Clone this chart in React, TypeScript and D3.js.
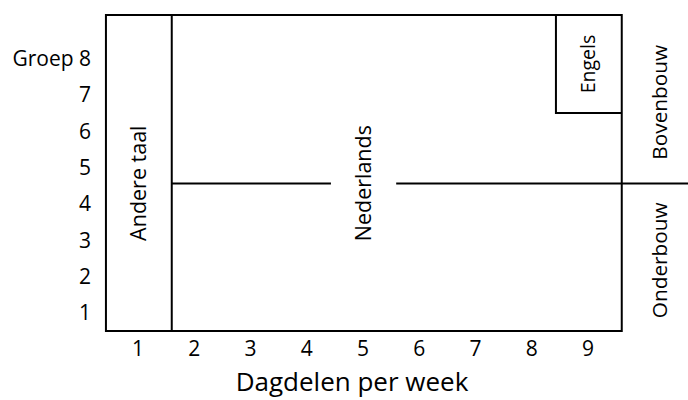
import React from "react";
import * as d3 from "d3";

const xTicks = [1, 2, 3, 4, 5, 6, 7, 8, 9];
const xTickLabels = ["1", "2", "3", "4", "5", "6", "7", "8", "9"];
const yTicks = [1, 2, 3, 4, 5, 6, 7, 8];
const yTickLabels = ["1", "2", "3", "4", "5", "6", "7", "Groep 8"];

// regions in data units [x0, x1, y0, y1]
const frame = { x0: 0.43, x1: 9.6, y0: 0.5, y1: 9.2 };
const andereTaal = { x0: 0.43, x1: 1.6, y0: 0.5, y1: 9.2, label: "Andere taal", lx: 1, ly: 4.57 };
const engels = { x0: 8.43, x1: 9.6, y0: 6.5, y1: 9.2, label: "Engels", lx: 9, ly: 7.85 };
const nederlands = { label: "Nederlands", lx: 5, ly: 4.57 };
const splitY = 4.56;
const splitSegments = [
  [1.6, 4.43],
  [5.59, 11.1],
];
const sideLabels = [
  { label: "Bovenbouw", y0: splitY, y1: 9.2 },
  { label: "Onderbouw", y0: 0.5, y1: splitY },
];
const xTitle = "Dagdelen per week";

export default function App() {
  const W = 688;
  const H = 400;
  const x = d3.scaleLinear().domain([1, 9]).range([138, 588]);
  const y = d3.scaleLinear().domain([0.5, 9.2]).range([331, 15]);
  const font = "'Open Sans', sans-serif";
  const sw = 2;
  const sideX = x(10.28);

  return (
    <svg width={W} height={H} style={{ position: "absolute", left: 0, top: 0 }} fontFamily={font}>
      <rect x={0} y={0} width={W} height={H} fill="#fff" />
      {/* frame */}
      <rect
        x={x(frame.x0)}
        y={y(frame.y1)}
        width={x(frame.x1) - x(frame.x0)}
        height={y(frame.y0) - y(frame.y1)}
        fill="none"
        stroke="#000"
        strokeWidth={sw}
      />
      {/* Andere taal divider */}
      <line x1={x(andereTaal.x1)} x2={x(andereTaal.x1)} y1={y(andereTaal.y0)} y2={y(andereTaal.y1)} stroke="#000" strokeWidth={sw} />
      {/* Engels box */}
      <polyline
        points={`${x(engels.x0)},${y(engels.y1)} ${x(engels.x0)},${y(engels.y0)} ${x(engels.x1)},${y(engels.y0)}`}
        fill="none"
        stroke="#000"
        strokeWidth={sw}
      />
      {/* split line */}
      {splitSegments.map((s, i) => (
        <line key={i} x1={x(s[0])} x2={Math.min(W, x(s[1]))} y1={y(splitY)} y2={y(splitY)} stroke="#000" strokeWidth={sw} />
      ))}
      {/* region labels */}
      {[andereTaal, engels, nederlands].map((r, i) => (
        <text
          key={i}
          transform={`translate(${x(r.lx)},${y(r.ly)}) rotate(-90)`}
          textAnchor="middle"
          dy="0.35em"
          fontSize={i === 1 ? 19.5 : 21.5}
          fill="#000"
        >
          {r.label}
        </text>
      ))}
      {sideLabels.map((s, i) => (
        <text
          key={i}
          transform={`translate(${sideX},${(y(s.y0) + y(s.y1)) / 2 + 3}) rotate(-90)`}
          textAnchor="middle"
          dy="0.35em"
          fontSize={20.8}
          fill="#000"
        >
          {s.label}
        </text>
      ))}
      {/* y tick labels */}
      {yTicks.map((t, i) => (
        <text key={t} x={91} y={y(t)} dy="0.35em" textAnchor="end" fontSize={21} fill="#000">
          {yTickLabels[i]}
        </text>
      ))}
      {/* x tick labels */}
      {xTicks.map((t, i) => (
        <text key={t} x={x(t)} y={356} textAnchor="middle" fontSize={21} fill="#000">
          {xTickLabels[i]}
        </text>
      ))}
      <text x={352} y={391} textAnchor="middle" fontSize={26} fill="#000">
        {xTitle}
      </text>
    </svg>
  );
}
